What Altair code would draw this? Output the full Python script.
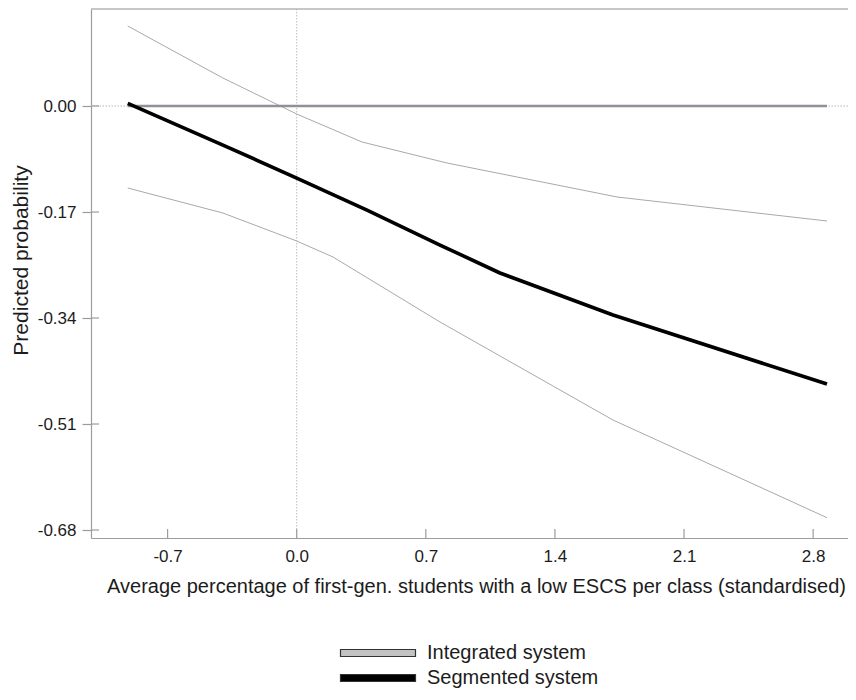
import altair as alt
import pandas as pd

# ---- data ----
x_ticks = [-0.7, 0.0, 0.7, 1.4, 2.1, 2.8]
y_ticks = [0.0, -0.17, -0.34, -0.51, -0.68]

series_names = ["Integrated system", "Segmented system"]

integ_x = [-0.916, -0.400, 0.0, 0.381, 0.777, 1.102, 1.715, 2.875]
integ_y = [0.0, 0.0, 0.0, 0.0, 0.0, 0.0, 0.0, 0.0]

seg_x = [-0.916, -0.400, 0.0, 0.381, 0.777, 1.102, 1.715, 2.875]
seg_y = [0.0043, -0.0626, -0.1155, -0.1668, -0.2229, -0.2678, -0.3352, -0.4459]

upper_x = [-0.916, -0.400, 0.0, 0.354, 0.815, 1.737, 2.875]
upper_y = [0.1283, 0.0449, -0.0128, -0.0577, -0.0914, -0.1459, -0.1844]

lower_x = [-0.916, -0.400, 0.0, 0.197, 0.777, 1.715, 2.875]
lower_y = [-0.1315, -0.1716, -0.2165, -0.2422, -0.3464, -0.5036, -0.6602]

x_title = "Average percentage of first-gen. students with a low ESCS per class (standardised)"
y_title = "Predicted probability"

# ---- layout / style ----
W, H = 757, 529
XDOM = [-1.1153, 2.989]
YDOM = [-0.6928, 0.1556]
FONT = "Liberation Sans"
AXC = "#9c9c9c"
TXT = "#1c1c1c"

xs = alt.Scale(domain=XDOM, nice=False, zero=False)
ys = alt.Scale(domain=YDOM, nice=False, zero=False)

x_axis = alt.Axis(
    values=x_ticks,
    labelExpr="(datum.value < 0 ? '-' : '') + format(abs(datum.value), '.1f')",
    ticks=False, grid=False, domainColor=AXC, domainWidth=1.2,
    labelFontSize=17, labelColor=TXT, labelPadding=10, labelFont=FONT,
    titleFontSize=20, titleFontWeight="normal", titleColor=TXT, titleFont=FONT,
    titleX=385, titleY=48, titleBaseline="middle",
)
y_axis = alt.Axis(
    values=y_ticks,
    labelExpr="(datum.value < 0 ? '-' : '') + format(abs(datum.value), '.2f')",
    ticks=True, tickSize=9, tickColor=AXC, tickWidth=1.2, grid=False,
    domainColor=AXC, domainWidth=1.2,
    labelFontSize=17, labelColor=TXT, labelPadding=6, labelFont=FONT,
    labelAlign="right", labelBaseline="middle",
    titleFontSize=21, titleFontWeight="normal", titleColor=TXT, titleFont=FONT,
    titleX=-70, titleY=251, titleBaseline="middle",
)


def X(field):
    return alt.X(field, type="quantitative", scale=xs, axis=x_axis, title=x_title)


def Y(field):
    return alt.Y(field, type="quantitative", scale=ys, axis=y_axis, title=y_title)


integ_df = pd.DataFrame({"x": integ_x, "y": integ_y})
seg_df = pd.DataFrame({"x": seg_x, "y": seg_y})
ci_df = pd.DataFrame({
    "x": upper_x + lower_x,
    "y": upper_y + lower_y,
    "bound": ["upper"] * len(upper_x) + ["lower"] * len(lower_x),
})
xt_df = pd.DataFrame({"t": x_ticks})
yt_df = pd.DataFrame({"t": y_ticks})
# legend-only rows: no position, so nothing is drawn; they only carry the legend
leg_df = pd.DataFrame({"system": series_names, "x": [None, None], "y": [None, None]})

ref_v = alt.Chart(pd.DataFrame({"x": [0.0]})).mark_rule(
    color="#bdbdbd", strokeDash=[1.5, 1.5], strokeWidth=1
).encode(x=X("x"))
ref_h = alt.Chart(pd.DataFrame({"y": [0.0]})).mark_rule(
    color="#b5b5b5", strokeDash=[1.5, 1.5], strokeWidth=1
).encode(y=Y("y"))

top_border = alt.Chart(pd.DataFrame({"a": [0]})).mark_rule(
    color="#b5b5b5", strokeWidth=1.5
).encode(x=alt.value(0), x2=alt.value(W), y=alt.value(0))

x_in_ticks = alt.Chart(xt_df).mark_rule(color=AXC, strokeWidth=1.2).encode(
    x=X("t"), y=alt.value(H), y2=alt.value(H - 9)
)
y_in_ticks = alt.Chart(yt_df).mark_rule(color=AXC, strokeWidth=1.2).encode(
    y=Y("t"), x=alt.value(0), x2=alt.value(8)
)

ci = alt.Chart(ci_df).mark_line(color="#a9a9a9", strokeWidth=1).encode(
    x=X("x"), y=Y("y"), detail="bound:N"
)

integ = alt.Chart(integ_df).mark_line(color="#8e909a", strokeWidth=2.5).encode(
    x=X("x"), y=Y("y")
)
seg = alt.Chart(seg_df).mark_line(color="#000000", strokeWidth=3.6, strokeJoin="round").encode(
    x=X("x"), y=Y("y")
)

legend = alt.Legend(
    title=None, orient="none", legendX=276, legendY=633, direction="vertical",
    padding=0, symbolType="M-3.75,-0.35H3.75V0.35H-3.75Z", symbolSize=400,
    symbolStrokeWidth=1.2, symbolStrokeColor="#333333", symbolOpacity=1,
    labelFontSize=20, labelFont=FONT, labelColor=TXT, labelLimit=400,
    labelOffset=38, rowPadding=4, labelBaseline="middle",
)

leg = alt.Chart(leg_df).mark_point(filled=True).encode(
    x=X("x"), y=Y("y"),
    fill=alt.Fill("system:N", scale=alt.Scale(domain=series_names, range=["#c2c2c2", "#000000"]),
                  legend=legend),
)

chart = alt.layer(
    ref_v, ref_h, top_border, x_in_ticks, y_in_ticks, ci, integ, seg, leg
).properties(
    width=W, height=H,
    autosize=alt.AutoSizeParams(type="none"),
    padding={"left": 83, "top": 1, "right": 0, "bottom": 150},
).configure(font=FONT).configure_view(stroke=None)

chart.save("out.html", embed_options={"renderer": "svg", "actions": False})
